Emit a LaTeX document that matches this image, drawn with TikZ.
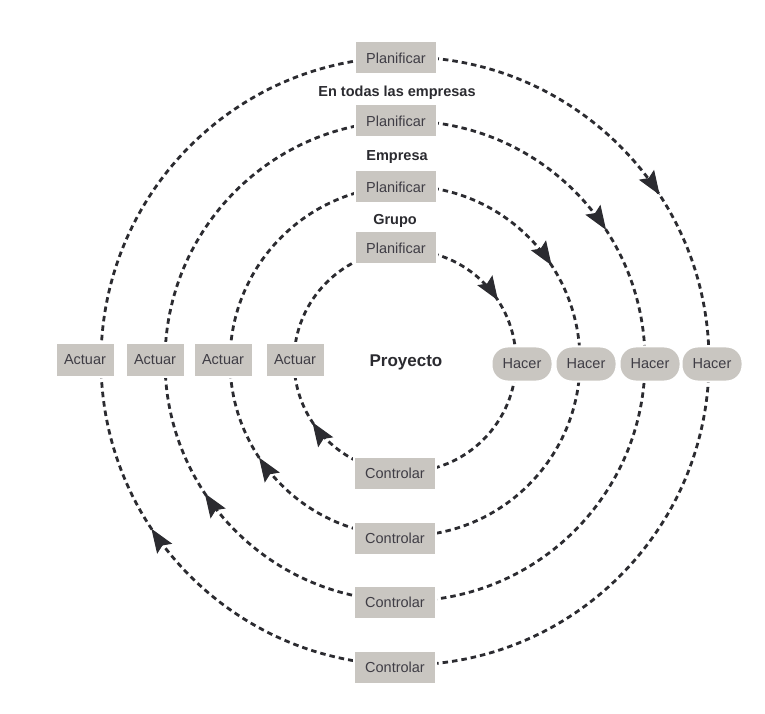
\documentclass[tikz,border=0pt]{standalone}
\usepackage{fontspec}
\setmainfont{Liberation Sans}
\usetikzlibrary{arrows.meta,decorations.markings}
\definecolor{cajagris}{HTML}{C9C6C1}
\definecolor{textogris}{HTML}{3F3D45}
\definecolor{trazo}{HTML}{2B2B30}

\tikzset{
  caja/.style={fill=cajagris,draw=white,line width=2pt,text=textogris,
    font=\fontsize{14.5}{17}\selectfont,inner sep=0pt},
  nivel/.style={text=trazo,font=\bfseries\fontsize{14.5}{17}\selectfont},
  ciclo/.style={trazo,line width=2.8pt,dash pattern=on 5.5pt off 4pt,
    postaction={decorate},decoration={markings,
      mark=at position 0.158 with {\arrow[line width=1pt]{Stealth[length=24pt,width=18pt,inset=4pt]}},
      mark=at position 0.657 with {\arrow[line width=1pt]{Stealth[length=24pt,width=18pt,inset=4pt]}}}},
}

\begin{document}
\begin{tikzpicture}[x=1pt,y=1pt]
  \fill[white] (0,0) rectangle (765,713);
  \coordinate (c) at (405,352);

  \foreach \r in {111,175,240,304}
    \draw[ciclo] (c) ++(90:\r) arc[start angle=90,end angle=-270,radius=\r];

  \foreach \i/\py/\cy/\ax/\hx in {1/465/240/295/522,2/526/175/223/586,3/592/111/155/650,4/655/46/85/712}{
    \node[caja,minimum width=82pt,minimum height=33pt] (plan\i) at (396,\py) {Planificar};
    \node[caja,minimum width=82pt,minimum height=33pt] (ctrl\i) at (395,\cy) {Controlar};
    \node[caja,minimum width=59pt,minimum height=34pt] (act\i) at (\ax,353) {Actuar};
    \node[caja,rounded corners=16pt,minimum width=61pt,minimum height=35pt] (hac\i) at (\hx,349) {Hacer};
  }

  \node[nivel] (todas) at (397,620) {En todas las empresas};
  \node[nivel] (empresa) at (397,556) {Empresa};
  \node[nivel] (grupo) at (395,492) {Grupo};
  \node[nivel,font=\bfseries\fontsize{17}{20}\selectfont] (proyecto) at (406,351) {Proyecto};
\end{tikzpicture}
\end{document}
